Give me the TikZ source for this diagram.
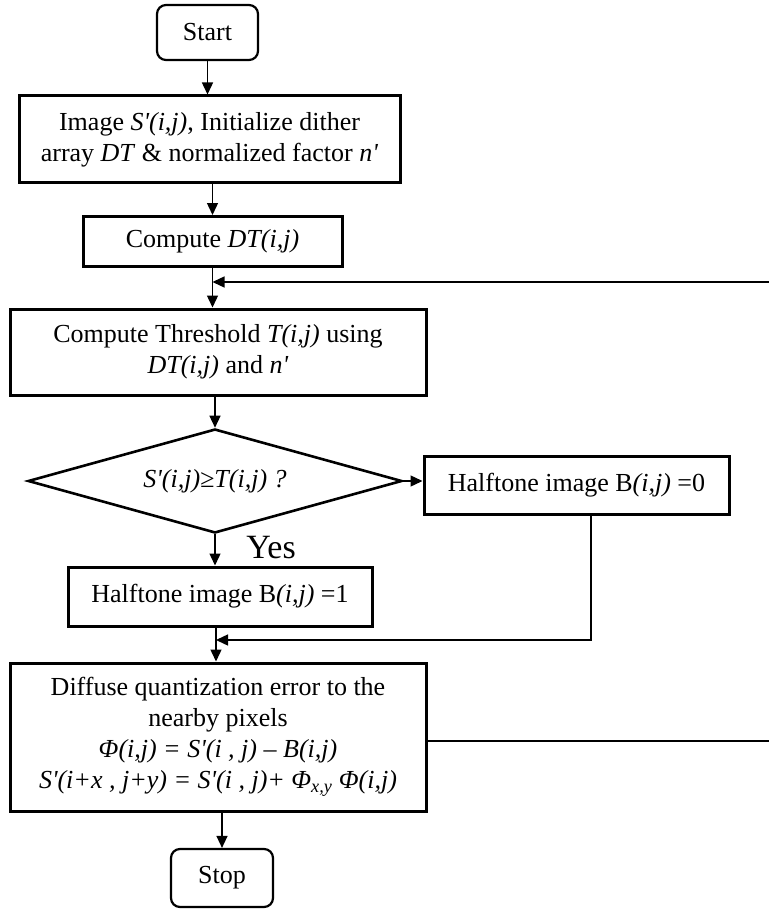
\documentclass[tikz,border=0pt]{standalone}
\usepackage{fontspec}
\setmainfont{Liberation Serif}
\usetikzlibrary{arrows.meta,shapes.geometric}
\newcommand\ap{\textquotesingle}
\begin{document}
\begin{tikzpicture}[x=1pt,y=-1pt,
  every node/.style={font=\fontsize{26}{31}\selectfont, inner sep=0pt, align=center},
  procbox/.style={draw, line width=3pt, rectangle},
  termbox/.style={draw, line width=2.2pt, rounded corners=9pt},
  decbox/.style={draw, line width=2.6pt, diamond, shape aspect=3.6},
  flow/.style={line width=1.4pt, -{Triangle[length=12pt,width=11pt]}}]
\useasboundingbox (0,0) rectangle (768,912);

% process steps
\node[termbox, minimum width=101pt, minimum height=55pt] (start) at (207.5,32.5) {Start};
\node[procbox, minimum width=381pt, minimum height=87pt] (init) at (209.5,139.5)
  {Image \textit{S\ap(i,j)}, Initialize dither\\ array \textit{DT} \& normalized factor \textit{n\ap}};
\node[procbox, minimum width=259pt, minimum height=50pt] (dt) at (212.5,241.5) {Compute \textit{DT(i,j)}};
\node[procbox, minimum width=416pt, minimum height=86pt] (thr) at (218,352)
  {Compute Threshold \textit{T(i,j)} using\\ \textit{DT(i,j)} and \textit{n\ap}};
\node[decbox, minimum width=374pt, minimum height=104pt] (dec) at (215,481) {\textit{S\ap(i,j)≥T(i,j) ?}};
\node[procbox, minimum width=305pt, minimum height=58pt] (b0) at (576.5,485) {Halftone image B\textit{(i,j)} =0};
\node[procbox, minimum width=304pt, minimum height=59pt] (b1) at (220,596.5) {Halftone image B\textit{(i,j)} =1};
\node[procbox, minimum width=416pt, minimum height=148pt] (dif) at (218,737)
  {Diffuse quantization error to the\\ nearby pixels\\
   \textit{Φ(i,j) = S\ap(i , j) – B(i,j)}\\
   \textit{S\ap(i+x , j+y) = S\ap(i , j)+ Φ\textsubscript{x,y} Φ(i,j)}};
\node[termbox, minimum width=102pt, minimum height=58pt] (stop) at (222,878) {Stop};
\node[font=\fontsize{34}{36}\selectfont] (yes) at (271,548) {Yes};

% junction points and the return path beyond the right edge
\coordinate (ly) at (0,282);
\coordinate (j1) at (dt.south |- ly);
\coordinate (j2) at (216,640);
\coordinate (edge) at (772,0);

% connectors
\draw[flow] (start.south) -- (start.south |- init.north);
\draw[flow] (dt.north |- init.south) -- (dt.north);
\draw[flow] (dt.south) -- (dt.south |- thr.north);
\draw[flow] (dec.north |- thr.south) -- (dec.north);
\draw[flow] (dec.south) -- (dec.south |- b1.north);
\draw[flow] (dec.east) -- (b0.west |- dec.east);
\draw[flow] (j2 |- b1.south) -- (j2 |- dif.north);
\draw[flow] ([xshift=14.5pt]b0.south) |- (j2);
\draw[flow] (stop.north |- dif.south) -- (stop.north);
\draw[flow] ([yshift=-4pt]dif.east) -- ([yshift=-4pt]dif.east -| edge) -- (edge |- j1) -- (j1);
\end{tikzpicture}
\end{document}
